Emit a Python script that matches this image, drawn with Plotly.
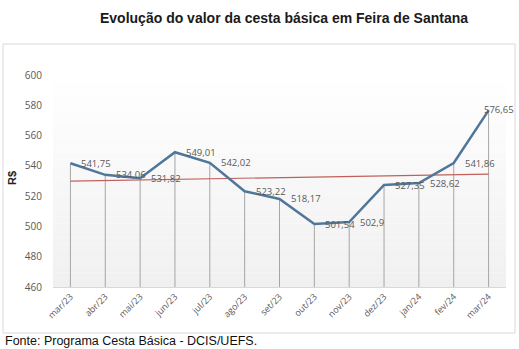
import numpy as np
import plotly.graph_objects as go

months = ["mar/23", "abr/23", "mai/23", "jun/23", "jul/23", "ago/23", "set/23",
          "out/23", "nov/23", "dez/23", "jan/24", "fev/24", "mar/24"]
values = [541.75, 534.06, 531.82, 549.01, 542.02, 523.22, 518.17,
          501.54, 502.9, 527.35, 528.62, 541.86, 576.65]
labels = ["541,75", "534,06", "531,82", "549,01", "542,02", "523,22", "518,17",
          "501,54", "502,9", "527,35", "528,62", "541,86", "576,65"]
y_ticks = [460, 480, 500, 520, 540, 560, 580, 600]

W, H = 519, 349
L, R, T, B = 53, 506, 75, 287  # plot area in pixels
ymin, ymax = 460, 600

def px_x(p):
    return (p - L) / (R - L)

def px_y(p):
    return (B - p) / (B - T)

idx = np.arange(len(values))
slope, intercept = np.polyfit(idx, values, 1)
trend = slope * idx + intercept

fig = go.Figure()

# drop lines
dx, dy = [], []
for m, v in zip(months, values):
    dx += [m, m, None]
    dy += [ymin, v, None]
fig.add_trace(go.Scatter(x=dx, y=dy, mode="lines",
                         line=dict(color="#a6a6a6", width=1),
                         hoverinfo="skip", showlegend=False))
# trend line
fig.add_trace(go.Scatter(x=months, y=trend, mode="lines",
                         line=dict(color="#c0605a", width=1.2),
                         showlegend=False))
# main series
fig.add_trace(go.Scatter(x=months, y=values, mode="lines",
                         line=dict(color="#50769a", width=2.5),
                         showlegend=False))

annotations = []
for i, (m, v, t) in enumerate(zip(months, values, labels)):
    last = i == len(values) - 1
    annotations.append(dict(x=m, y=v, text=t, showarrow=False,
                            xanchor="left", yanchor="middle",
                            xshift=(-7 if last else 9), yshift=(1 if last else 0),
                            font=dict(family="Open Sans", size=9.5, color="#595959")))

# title, axis title, footer
annotations.append(dict(xref="paper", yref="paper", x=px_x(284), y=px_y(18),
                        text="<b>Evolução do valor da cesta básica em Feira de Santana</b>",
                        showarrow=False, xanchor="center", yanchor="middle",
                        font=dict(family="Liberation Sans", size=14, color="#1a1a1a")))
annotations.append(dict(xref="paper", yref="paper", x=px_x(12), y=px_y(178),
                        text="<b>R$</b>", textangle=-90, showarrow=False,
                        xanchor="center", yanchor="middle",
                        font=dict(family="Liberation Sans", size=11, color="#222222")))
annotations.append(dict(xref="paper", yref="paper", x=px_x(3), y=px_y(341),
                        text="Fonte: Programa Cesta Básica - DCIS/UEFS.",
                        showarrow=False, xanchor="left", yanchor="middle",
                        font=dict(family="Liberation Sans", size=12.5, color="#111111")))

shapes = []
# outer border
shapes.append(dict(type="rect", xref="paper", yref="paper",
                   x0=px_x(3), x1=px_x(515), y0=px_y(333), y1=px_y(44),
                   line=dict(color="#d9d9d9", width=1), fillcolor="rgba(0,0,0,0)",
                   layer="below"))
# gradient plot background
n = 30
for k in range(n):
    f = k / (n - 1)
    c = int(round(255 - 15 * f))
    shapes.append(dict(type="rect", xref="paper", yref="paper",
                       x0=0, x1=1, y0=1 - (k + 1) / n, y1=1 - k / n,
                       line=dict(width=0), fillcolor=f"rgb({c},{c},{c})",
                       layer="below"))

fig.update_layout(
    width=W, height=H,
    margin=dict(l=L, r=W - R, t=T, b=H - B, pad=0),
    paper_bgcolor="white", plot_bgcolor="rgba(0,0,0,0)",
    annotations=annotations, shapes=shapes,
    xaxis=dict(type="category", categoryorder="array", categoryarray=months,
               range=[-0.5, len(months) - 0.5], tickangle=-45,
               showgrid=False, showline=True, linecolor="#d9d9d9",
               ticks="", tickfont=dict(family="Open Sans", size=9, color="#595959")),
    yaxis=dict(range=[ymin, ymax], tickvals=y_ticks, showgrid=False,
               showline=False, zeroline=False, ticks="", ticklabelstandoff=10,
               tickfont=dict(family="Open Sans", size=10, color="#595959")),
)

fig.write_html("out.html")
